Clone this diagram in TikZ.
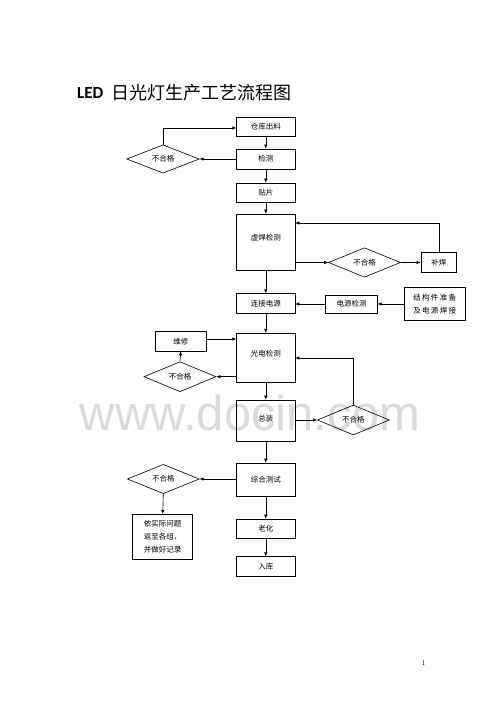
\documentclass[tikz,border=0pt]{standalone}
\usepackage{fontspec}
\setmainfont{Liberation Serif}
\newfontfamily\cjk{Noto Sans CJK SC}
\newfontfamily\cjksp[LetterSpace=18]{Noto Sans CJK SC}
\newfontfamily\titlelat{Carlito}
\newfontfamily\wmfont{Liberation Sans}
\usetikzlibrary{shapes.geometric,arrows.meta}
\definecolor{wmgray}{RGB}{218,218,218}
\begin{document}
\begin{tikzpicture}[x=1pt,y=-1pt,
  box/.style={draw, line width=0.6pt, inner sep=0pt, minimum width=58.3pt, font=\cjk\fontsize{7.5}{9}\selectfont},
  sbox/.style={draw, line width=0.6pt, inner sep=0pt, font=\cjk\fontsize{7.5}{9}\selectfont},
  dia/.style={draw, diamond, line width=0.6pt, inner sep=0pt, aspect=2.4, minimum width=72pt, minimum height=29.5pt, font=\cjk\fontsize{7.5}{9}\selectfont},
  lbl/.style={inner sep=0pt, font=\cjk\fontsize{7.5}{9}\selectfont},
  arr/.style={draw, line width=0.6pt, -{Latex[length=4pt,width=3.5pt]}},
  ln/.style={draw, line width=0.6pt}]
\useasboundingbox (0,0) rectangle (500,708);
% watermark
\node[inner sep=0pt, anchor=base, text=wmgray, font=\wmfont\fontsize{49}{49}\selectfont] (wm) at (250,430) {www.docin.com};
% title
\node[inner sep=0pt, anchor=base west, font=\titlelat\bfseries\fontsize{17}{17}\selectfont] (tl) at (77,99) {LED};
\node[inner sep=0pt, anchor=base west, font=\cjk\fontsize{18}{18}\selectfont] (tc) at (111.5,99.5) {日光灯生产工艺流程图};
% main column
\node[box, minimum height=19pt] (a1) at (265.8,126.5) {仓库出料};
\node[box, minimum height=20pt] (a2) at (265.8,159) {检测};
\node[box, minimum height=19pt] (a3) at (265.8,192.5) {贴片};
\node[box, minimum height=56pt] (a4) at (265.8,242) {};
\node[lbl] (t4) at (265.8,238) {虚焊检测};
\node[box, minimum height=19.5pt] (a5) at (265.8,303.5) {连接电源};
\node[box, minimum height=49.5pt] (a6) at (265.8,358) {};
\node[lbl] (t6) at (265.8,353.5) {光电检测};
\node[box, minimum height=41pt] (a7) at (265.8,420.5) {};
\node[lbl] (t7) at (265.8,418.5) {总装};
\node[box, minimum height=33pt] (a8) at (265.8,479.5) {综合测试};
\node[box, minimum height=19pt] (a9) at (265.8,528.5) {老化};
\node[box, minimum height=19.5pt] (a10) at (265.8,566.5) {入库};
% diamonds
\node[dia, minimum width=72.6pt, minimum height=28.3pt] (d1) at (163,159) {不合格};
\node[dia] (d2) at (364.5,262.5) {不合格};
\node[dia, minimum height=30pt] (d3) at (180,376.7) {不合格};
\node[dia, minimum height=30pt] (d4) at (353.3,420) {不合格};
\node[dia, minimum height=29.3pt] (d5) at (163.3,479) {不合格};
% side boxes
\node[sbox, minimum width=35.7pt, minimum height=20.4pt] (b1) at (438.8,262.5) {补焊};
\node[sbox, minimum width=51.6pt, minimum height=18.3pt] (b2) at (351.5,304) {电源检测};
\node[sbox, minimum width=60.7pt, minimum height=33.4pt, align=center, font=\cjksp\fontsize{7.5}{13}\selectfont] (b3) at (434.7,304) {结构件准备\\及电源焊接};
\node[sbox, minimum width=50.3pt, minimum height=19.3pt] (b4) at (180.8,341.3) {维修};
\node[sbox, minimum width=60pt, minimum height=45pt, align=center, font=\cjk\fontsize{7.5}{13.3}\selectfont] (b5) at (162.7,536.8) {依实际问题\\返至各组，\\并做好记录};
% page number
\node[inner sep=0pt, font=\fontsize{7}{8}\selectfont] (pg) at (423.5,663) {1};
% main flow
\draw[arr] (a1) -- (a2);
\draw[arr] (a2) -- (a3);
\draw[arr] (a3) -- (a4);
\draw[arr] (a4) -- (a5);
\draw[arr] (a5) -- (a6);
\draw[arr] (a6) -- (a7);
\draw[arr] (a7) -- (a8);
\draw[arr] (a8) -- (a9);
\draw[arr] (a9) -- (a10);
% loops
\draw[arr] (a2.west) -- (d1.east);
\draw[arr] (d1.north) |- ([yshift=-1.5pt]a1.west);
\draw[arr] (a4.east |- d2.west) -- (d2.west);
\draw[arr] (d2.east) -- (b1.west);
\draw[arr] (b1.north) |- ([yshift=-9.3pt]a4.north east);
\draw[arr] (b3.west) -- (b2.east);
\draw[arr] (b2.west) -- (a5.east |- b2.west);
\draw[arr] ([yshift=2.3pt]b4.east) -- ([yshift=2.3pt]a6.west |- b4.east);
\draw[arr] (a6.west |- d3.east) -- (d3.east);
\draw[arr] (d3.north) -- (b4.south);
\draw[arr] (a7.east |- d4.west) -- (d4.west);
\draw[arr] (d4.north) |- (a6.east);
\draw[arr] (a8.west |- d5.east) -- (d5.east);
\draw[arr] (d5.south) -- (b5.north);
\end{tikzpicture}
\end{document}
